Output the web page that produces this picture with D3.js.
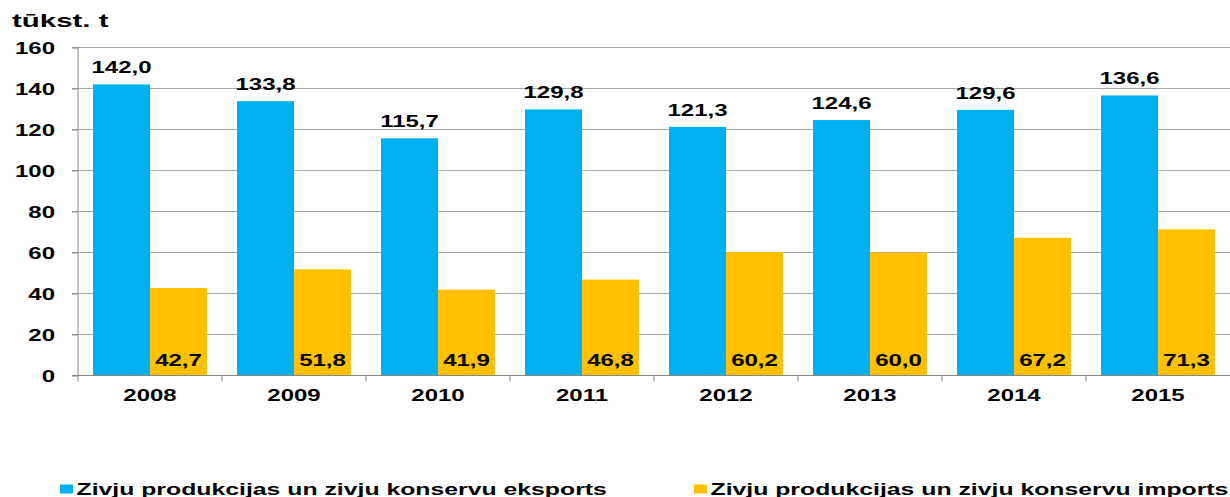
<!DOCTYPE html>
<html>
<head>
<meta charset="utf-8">
<script src="https://cdn.jsdelivr.net/npm/d3@7"></script>
<style>
  body { margin: 0; background: #fff; }
  svg { display: block; }
  text { font-family: "Liberation Sans", Arial, sans-serif; font-weight: bold; fill: #000; }
</style>
</head>
<body>
<svg id="chart" width="1230" height="497"></svg>
<script>
// data
var years = ['2008','2009','2010','2011','2012','2013','2014','2015'];
var eksports = [142.0,133.8,115.7,129.8,121.3,124.6,129.6,136.6];
var imports = [42.7,51.8,41.9,46.8,60.2,60.0,67.2,71.3];
var yTicks = [0,20,40,60,80,100,120,140,160];
var seriesNames = ['Zivju produkcijas un zivju konservu eksports','Zivju produkcijas un zivju konservu imports'];
var seriesColors = ['#00B0F0','#FFC000'];
var unitLabel = 'tūkst. t';

var plotLeft = 78, plotRight = 1230, plotTop = 47.5, plotBottom = 375.5;
var stretch = 1.5; // the original text is drawn wide

var svg = d3.select('#chart');

var lv = d3.formatLocale({decimal: ',', thousands: ' ', grouping: [3], currency: ['', '']});
var fmt = lv.format('.1f');

var x = d3.scaleBand().domain(years).range([plotLeft, plotRight]).padding(0);
var xs = d3.scaleBand().domain([0,1]).range([0, x.bandwidth()]).paddingInner(0).paddingOuter(0.263);
var y = d3.scaleLinear().domain([0,160]).range([plotBottom, plotTop]);

// helper for stretched text
function wideText(g, tx, ty, str, size, anchor, sx)
{
    return g.append('text')
        .attr('transform', 'translate(' + tx + ',' + ty + ') scale(' + (sx || stretch) + ',1)')
        .attr('text-anchor', anchor || 'start')
        .style('font-size', size + 'px')
        .text(str);
}

// gridlines
svg.append('g').selectAll('line').data(yTicks.filter(d => d > 0)).enter().append('line')
    .attr('x1', plotLeft - 6).attr('x2', plotRight)
    .attr('y1', d => y(d)).attr('y2', d => y(d))
    .attr('stroke', '#a6a6a6').attr('stroke-width', 1);

// bars
var groups = svg.append('g').selectAll('g').data(years).enter().append('g')
    .attr('transform', d => 'translate(' + x(d) + ',0)');

groups.append('rect')
    .attr('x', xs(0)).attr('width', xs.bandwidth())
    .attr('y', (d,i) => y(eksports[i]))
    .attr('height', (d,i) => y(0) - y(eksports[i]))
    .attr('fill', seriesColors[0]);

groups.append('rect')
    .attr('x', xs(1)).attr('width', xs.bandwidth())
    .attr('y', (d,i) => y(imports[i]))
    .attr('height', (d,i) => y(0) - y(imports[i]))
    .attr('fill', seriesColors[1]);

// axes
var yAxis = d3.axisLeft(y).tickValues(yTicks).tickSize(6).tickFormat('');
var ga = svg.append('g').attr('transform', 'translate(' + plotLeft + ',0)').call(yAxis);
ga.selectAll('path,line').attr('stroke', '#868686');
ga.select('.domain').attr('d', 'M0,' + y(160) + 'V' + y(0));

yTicks.forEach(function(t) {
    wideText(svg, 55, y(t) + 6, String(t), 16, 'end');
});

svg.append('line')
    .attr('x1', plotLeft - 6).attr('x2', plotRight)
    .attr('y1', y(0)).attr('y2', y(0))
    .attr('stroke', '#868686');

svg.append('g').selectAll('line').data(years).enter().append('line')
    .attr('x1', d => x(d)).attr('x2', d => x(d))
    .attr('y1', y(0)).attr('y2', y(0) + 6)
    .attr('stroke', '#868686');

years.forEach(function(yr) {
    wideText(svg, x(yr) + x.bandwidth()/2, 401, yr, 16, 'middle');
});

// value labels
years.forEach(function(yr, i) {
    wideText(svg, x(yr) + xs(0) + xs.bandwidth()/2, y(eksports[i]) - 11, fmt(eksports[i]), 16, 'middle');
    wideText(svg, x(yr) + xs(1) + xs.bandwidth()/2, y(0) - 10, fmt(imports[i]), 16, 'middle');
});

// unit title
wideText(svg, 12, 27, unitLabel, 19, 'start', 1.55);

// legend
var legendX = [60, 694];
seriesNames.forEach(function(name, i) {
    svg.append('rect')
        .attr('x', legendX[i]).attr('y', 484.5)
        .attr('width', 13).attr('height', 9)
        .attr('fill', seriesColors[i]);
    wideText(svg, legendX[i] + 16.5, 494.5, name, 16, 'start', 1.55);
});
</script>
</body>
</html>
